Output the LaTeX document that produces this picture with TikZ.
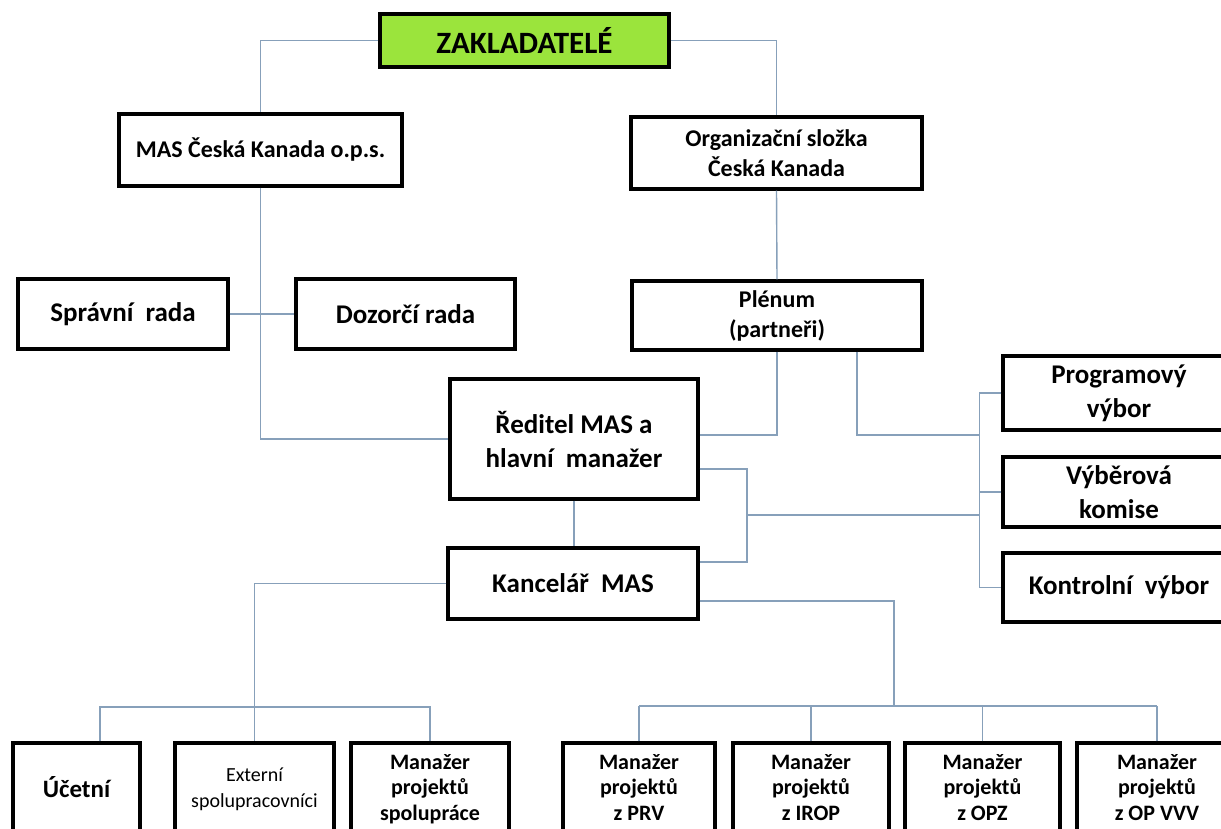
\documentclass[tikz,border=0pt]{standalone}
\usepackage{fontspec}
\setmainfont{Carlito}
\definecolor{linkblue}{RGB}{135,160,186}
\definecolor{rootgreen}{RGB}{155,228,60}
\newcommand{\wgap}{\hspace{0.45em}}
\tikzset{
  unit/.style={draw, line width=3.2pt, align=center, inner sep=0pt, fill=white},
  link/.style={draw=linkblue, line width=1.4pt},
  txtXL/.style={font=\bfseries\fontsize{31}{37}\selectfont},
  txtL/.style={font=\bfseries\fontsize{27}{34}\selectfont},
  txtM/.style={font=\bfseries\fontsize{24}{30}\selectfont},
  txtS/.style={font=\bfseries\fontsize{22}{25.5}\selectfont},
  txtR/.style={font=\fontsize{20}{26}\selectfont},
  lowrow/.style={unit, txtS, minimum height=92pt, execute at end node={\vphantom{p}}}
}
\begin{document}
\begin{tikzpicture}[x=1pt,y=-1pt]
  \clip (0,0) rectangle (1221,829);
  \fill[white] (0,0) rectangle (1221,829);

  %% top levels
  \node[unit, fill=rootgreen, txtXL, minimum width=289pt, minimum height=53pt] (zak) at (524.5,40.5) {ZAKLADATELÉ};
  \node[unit, txtM, minimum width=283pt, minimum height=72pt] (mas) at (260.5,150) {MAS Česká Kanada o.p.s.};
  \node[unit, txtM, minimum width=291pt, minimum height=72pt] (org) at (776.5,153) {Organizační složka\\Česká Kanada};

  %% boards
  \node[unit, txtL, minimum width=210pt, minimum height=70pt] (sprav) at (123,314) {Správní\wgap rada};
  \node[unit, txtL, minimum width=219pt, minimum height=70pt] (dozor) at (405.5,314) {Dozorčí rada};
  \node[unit, txtM, minimum width=290pt, minimum height=69pt] (plenum) at (777,315.5) {Plénum\\(partneři)};

  %% management
  \node[unit, txtL, minimum width=248pt, minimum height=120pt] (reditel) at (574,439) {Ředitel MAS a\\hlavní\wgap manažer};
  \node[unit, txtL, minimum width=250pt, minimum height=71pt] (kancel) at (573,583.5) {Kancelář\wgap MAS};

  %% committees
  \node[unit, txtL, minimum width=232pt, minimum height=74pt] (prog) at (1119,393) {Programový\\výbor};
  \node[unit, txtL, minimum width=232pt, minimum height=70pt] (vyber) at (1119,492) {Výběrová\\komise};
  \node[unit, txtL, minimum width=232pt, minimum height=69pt] (kontr) at (1119,587.5) {Kontrolní\wgap výbor};

  %% staff
  \node[lowrow, font=\bfseries\fontsize{25}{30}\selectfont, minimum width=127pt] (ucet) at (76.5,789) {Účetní};
  \node[lowrow, txtR, minimum width=159pt] (ext) at (254.5,789) {Externí\\spolupracovníci};
  \node[lowrow, minimum width=158pt] (spol) at (430,789) {Manažer\\projektů\\spolupráce};
  \node[lowrow, minimum width=152pt] (prv) at (639,789) {Manažer\\projektů\\z PRV};
  \node[lowrow, minimum width=156pt] (irop) at (811,789) {Manažer\\projektů\\z IROP};
  \node[lowrow, minimum width=155pt] (opz) at (982.5,789) {Manažer\\projektů\\z OPZ};
  \node[lowrow, minimum width=160pt] (opvvv) at (1157,789) {Manažer\\projektů\\z OP VVV};

  %% helper points
  \coordinate (bus) at ([xshift=-22pt]prog.west);
  \coordinate (rin) at ([yshift=4pt]reditel.east);
  \coordinate (mid) at (747,515);
  \coordinate (lbar) at (255,707);
  \coordinate (rbar) at (894,706);

  %% links
  \draw[link] (zak.west) -| (mas.north);
  \draw[link] (zak.east) -| (org.north);
  \draw[link] (mas.south) |- (reditel.west);
  \draw[link] (sprav.east) -- (dozor.west);
  \draw[link] (org.south) -- (plenum.north);
  \draw[link] (plenum.south) |- (rin);
  \draw[link] ([xshift=80pt]plenum.south) |- (bus |- rin);
  \draw[link] (prog.west) -| (bus) |- (kontr.west);
  \draw[link] (vyber.west) -- (bus |- vyber.west);
  \draw[link] ([yshift=-30pt]reditel.east) -| (mid) |- ([yshift=21.5pt]kancel.east);
  \draw[link] (mid) -- (bus |- mid);
  \draw[link] (reditel.south) -- (reditel.south |- kancel.north);

  \draw[link] (kancel.west) -| (ext.north);
  \draw[link] ([xshift=23.5pt]ucet.north) |- (lbar -| spol.north) -- (spol.north);
  \draw[link] ([yshift=-17.5pt]kancel.east) -| (rbar);
  \draw[link] (prv.north |- rbar) -- (opvvv.north |- rbar);
  \foreach \n in {prv,irop,opz,opvvv}
    \draw[link] (\n.north) -- (\n.north |- rbar);

\end{tikzpicture}
\end{document}
